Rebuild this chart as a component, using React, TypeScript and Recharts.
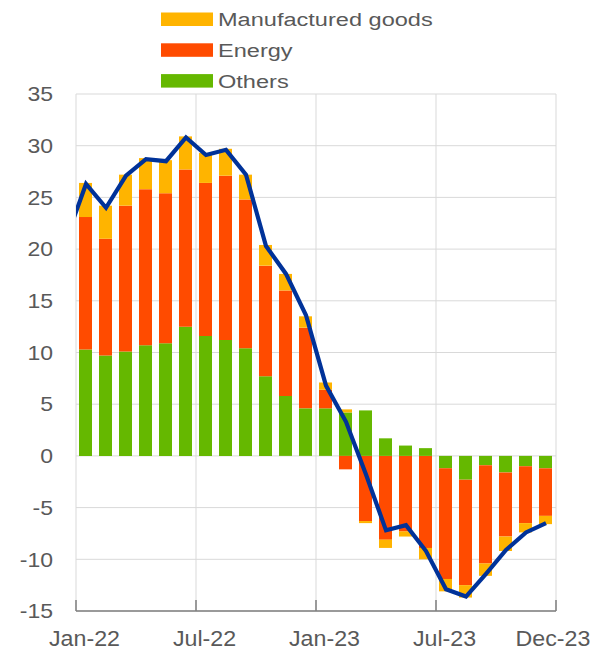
import React from 'react';
import { ComposedChart, Bar, Line, XAxis, YAxis, CartesianGrid } from 'recharts';

const months = [
  'Jan-22', 'Feb-22', 'Mar-22', 'Apr-22', 'May-22', 'Jun-22',
  'Jul-22', 'Aug-22', 'Sep-22', 'Oct-22', 'Nov-22', 'Dec-22',
  'Jan-23', 'Feb-23', 'Mar-23', 'Apr-23', 'May-23', 'Jun-23',
  'Jul-23', 'Aug-23', 'Sep-23', 'Oct-23', 'Nov-23', 'Dec-23',
];

const others = [
  10.3, 9.7, 10.1, 10.7, 10.9, 12.5, 11.6, 11.2, 10.4, 7.7, 5.8, 4.6,
  4.6, 4.2, 4.4, 1.7, 1.0, 0.75, -1.2, -2.3, -0.9, -1.6, -1.0, -1.2,
];

const energy = [
  12.8, 11.3, 14.1, 15.1, 14.5, 15.2, 14.8, 15.9, 14.4, 10.7, 10.2, 7.8,
  1.8, -1.3, -6.3, -8.1, -7.3, -8.9, -10.7, -10.2, -9.5, -6.2, -5.5, -4.6,
];

const manufactured = [
  3.3, 3.2, 3.0, 3.0, 3.2, 3.2, 2.9, 2.6, 2.4, 2.0, 1.6, 1.1,
  0.7, 0.3, -0.2, -0.8, -0.5, -1.1, -1.2, -1.2, -1.2, -1.4, -0.9, -0.8,
];

const total = [
  26.3, 24.0, 27.1, 28.7, 28.5, 30.8, 29.1, 29.6, 27.2, 20.3, 17.6, 13.6,
  6.8, 3.3, -1.8, -7.2, -6.7, -9.2, -12.9, -13.6, -11.4, -9.1, -7.4, -6.5,
];

// previous month (Dec-21), outside the visible range; the line enters from the left edge
const totalDec21 = 20.9;

const xTickValues = [0, 6, 12, 18, 24];
const xTickLabels = ['Jan-22', 'Jul-22', 'Jan-23', 'Jul-23', 'Dec-23'];
const yTicks = [-15, -10, -5, 0, 5, 10, 15, 20, 25, 30, 35];

const legendItems = [
  { name: 'Manufactured goods', color: '#FFB400' },
  { name: 'Energy', color: '#FF4B00' },
  { name: 'Others', color: '#65B800' },
];

const data = [
  { x: -0.5, month: 'Dec-21', total: totalDec21 },
  ...months.map((m, i) => ({
    x: i + 0.5,
    month: m,
    others: others[i],
    energy: energy[i],
    manufactured: manufactured[i],
    total: total[i],
  })),
];

const FONT = '"Liberation Sans", Arial, Helvetica, sans-serif';
const TEXT = '#595959';

const XTick = (props: any) => {
  const { x, y, payload } = props;
  const idx = xTickValues.indexOf(payload.value);
  const label = xTickLabels[idx] ?? '';
  const shift = idx < 4 ? 8.5 : -3;
  return (
    <g>
      <line x1={x} y1={y} x2={x} y2={y - 11} stroke="#7f7f7f" strokeWidth={1.5} />
      <g transform={`translate(${x + shift},${y + 34.5}) scale(1.08,1)`}>
        <text x={0} y={0} textAnchor="middle" fontFamily={FONT} fontSize={21.5} fill={TEXT}>
          {label}
        </text>
      </g>
    </g>
  );
};

const YTick = (props: any) => {
  const { x, y, payload } = props;
  return (
    <g transform={`translate(${x - 23},${y + 7.2}) scale(1.15,1)`}>
      <text x={0} y={0} textAnchor="end" fontFamily={FONT} fontSize={20} fill={TEXT}>
        {payload.value}
      </text>
    </g>
  );
};

const LegendBlock = () => (
  <svg width={595} height={94} style={{ position: 'absolute', left: 0, top: 0 }}>
    {legendItems.map((it, i) => {
      const base = 26 + i * 30.8;
      return (
        <g key={it.name}>
          <rect x={161} y={base - 13.5} width={52} height={13.5} fill={it.color} />
          <g transform={`translate(218,${base}) scale(1.24,1)`}>
            <text x={0} y={0} fontFamily={FONT} fontSize={19} fill={TEXT}>
              {it.name}
            </text>
          </g>
        </g>
      );
    })}
  </svg>
);

export default function App() {
  return (
    <div style={{ position: 'absolute', left: 0, top: 0, width: 595, height: 650, background: '#fff' }}>
      <ComposedChart
        width={595}
        height={650}
        data={data}
        stackOffset="sign"
        margin={{ top: 94, right: 39, bottom: 0, left: 0 }}
      >
        <CartesianGrid stroke="#d9d9d9" strokeWidth={1} />
        <XAxis
          type="number"
          dataKey="x"
          domain={[0, 24]}
          ticks={xTickValues}
          interval={0}
          allowDataOverflow
          height={39}
          tickSize={0}
          tickMargin={0}
          tickLine={false}
          axisLine={{ stroke: '#7f7f7f', strokeWidth: 1.5 }}
          tick={<XTick />}
        />
        <YAxis
          type="number"
          domain={[-15, 35]}
          ticks={yTicks}
          interval={0}
          width={76}
          tickSize={0}
          tickMargin={0}
          axisLine={false}
          tickLine={false}
          tick={<YTick />}
        />
        <Bar dataKey="others" stackId="a" fill="#65B800" barSize={13} isAnimationActive={false} />
        <Bar dataKey="energy" stackId="a" fill="#FF4B00" barSize={13} isAnimationActive={false} />
        <Bar dataKey="manufactured" stackId="a" fill="#FFB400" barSize={13} isAnimationActive={false} />
        <Line
          type="linear"
          dataKey="total"
          stroke="#003299"
          strokeWidth={4.2}
          dot={false}
          activeDot={false}
          isAnimationActive={false}
        />
      </ComposedChart>
      <LegendBlock />
    </div>
  );
}
